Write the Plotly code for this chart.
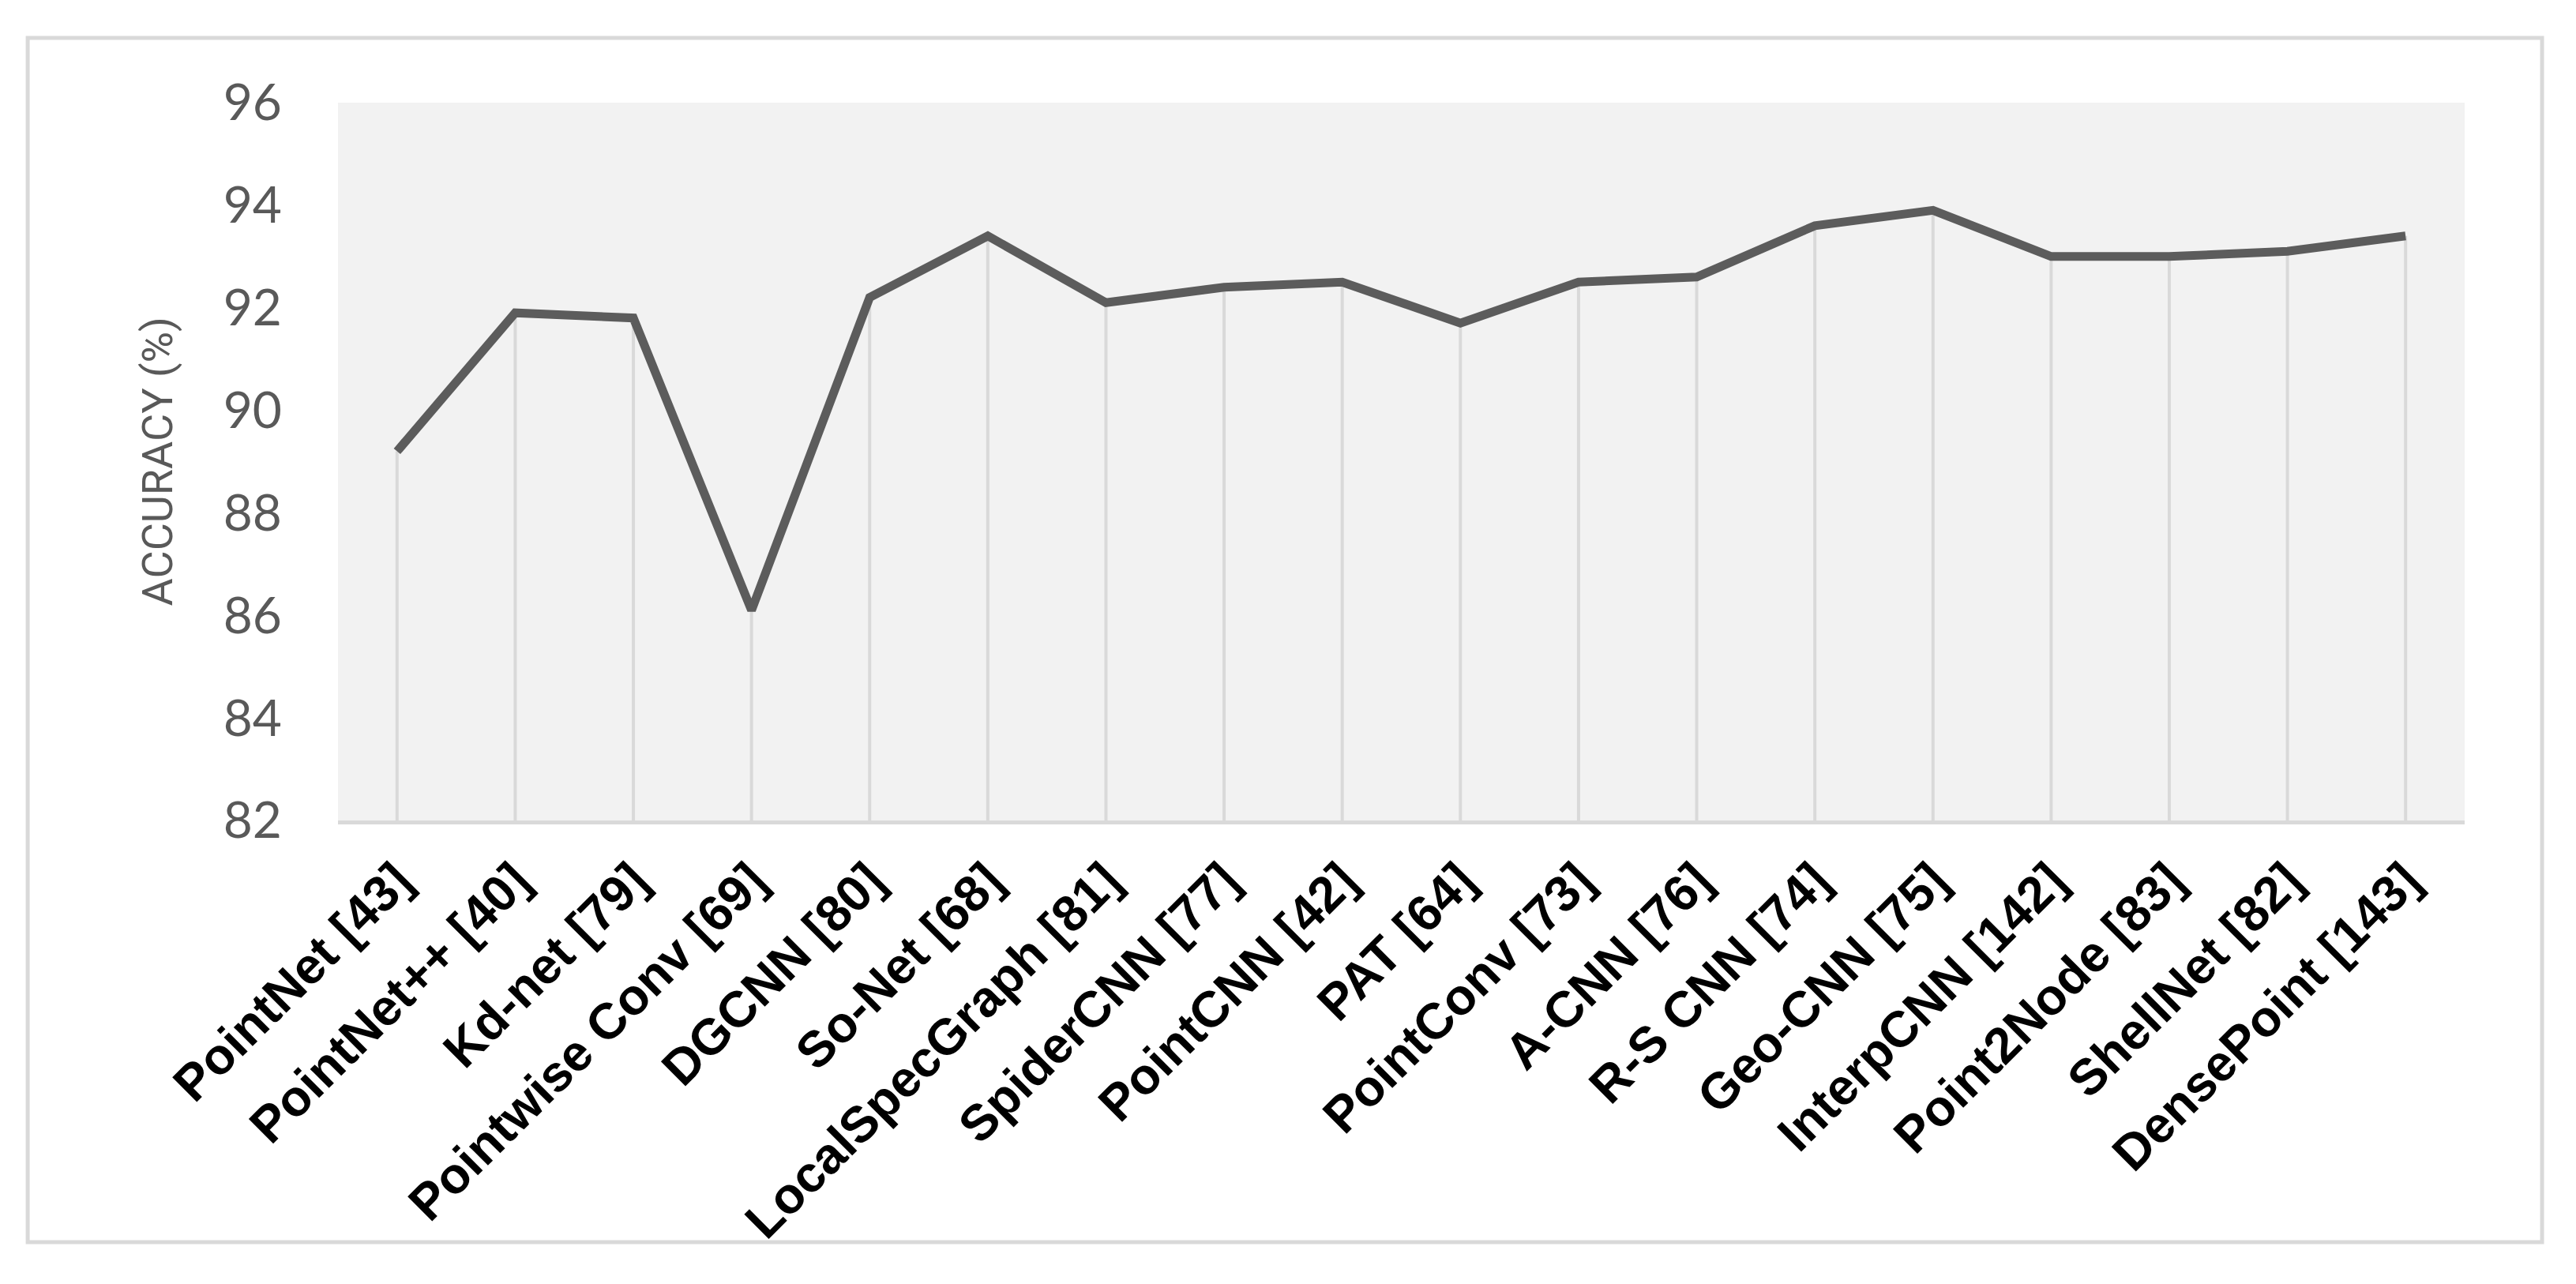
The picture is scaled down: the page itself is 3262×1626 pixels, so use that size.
import plotly.graph_objects as go

# methods on the x axis and their accuracy (%)
methods = [
    "PointNet [43]", "PointNet++ [40]", "Kd-net [79]", "Pointwise Conv [69]",
    "DGCNN [80]", "So-Net [68]", "LocalSpecGraph [81]", "SpiderCNN [77]",
    "PointCNN [42]", "PAT [64]", "PointConv [73]", "A-CNN [76]",
    "R-S CNN [74]", "Geo-CNN [75]", "InterpCNN [142]", "Point2Node [83]",
    "ShellNet [82]", "DensePoint [143]",
]
accuracy = [
    89.2, 91.9, 91.8, 86.1, 92.2, 93.4, 92.1, 92.4, 92.5,
    91.7, 92.5, 92.6, 93.6, 93.9, 93.0, 93.0, 93.1, 93.4,
]
y_min, y_max = 82, 96
y_ticks = [82, 84, 86, 88, 90, 92, 94, 96]

fig = go.Figure()

# drop lines from the axis up to each point
fig.add_trace(go.Scatter(
    x=methods, y=accuracy, mode="markers",
    marker=dict(size=1, opacity=0),
    error_y=dict(type="data", symmetric=False,
                 array=[0] * len(accuracy),
                 arrayminus=[v - y_min for v in accuracy],
                 color="#d9d9d9", thickness=4, width=0),
    hoverinfo="skip", showlegend=False,
))

fig.add_trace(go.Scatter(
    x=methods, y=accuracy, mode="lines",
    line=dict(color="#5c5c5c", width=11),
    showlegend=False,
))

# outer frame of the chart
fig.add_shape(type="rect", xref="paper", yref="paper",
              x0=-0.1459, x1=1.0364, y0=-0.5875, y1=1.0902,
              line=dict(color="#d9d9d9", width=5), layer="below")

fig.add_annotation(
    text="ACCURACY (%)", xref="paper", yref="paper",
    x=-0.0847, y=0.5, xanchor="center", yanchor="middle",
    textangle=-90, showarrow=False,
    font=dict(family="Roboto, sans-serif", size=54, color="#595959"),
)

# page body has an 8px margin, so the figure is shrunk by that much
fig.update_layout(
    width=3246, height=1610,
    margin=dict(l=420, r=133, t=122, b=579),
    paper_bgcolor="white",
    plot_bgcolor="#f2f2f2",
    xaxis=dict(
        range=[-0.5, len(methods) - 0.5], automargin=False,
        showgrid=False, zeroline=False,
        showline=True, linecolor="#d9d9d9", linewidth=5,
        tickangle=-45, ticks="",
        ticklabelstandoff=8,
        tickfont=dict(family="Liberation Sans, Arial, sans-serif",
                      size=64, color="black", weight="bold"),
    ),
    yaxis=dict(
        range=[y_min, y_max], tickvals=y_ticks, automargin=False,
        showgrid=False, zeroline=False, showline=False,
        ticklabelstandoff=70,
        tickfont=dict(family="Lato, sans-serif", size=64, color="#595959"),
    ),
)

fig.write_html("out.html")
